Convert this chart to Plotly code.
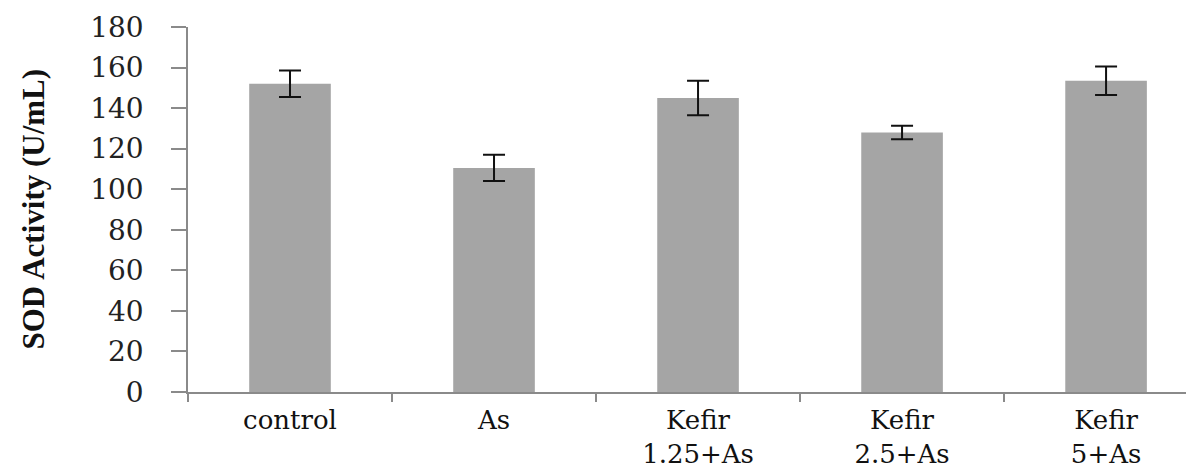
import plotly.graph_objects as go

categories = ["control", "As", "Kefir<br>1.25+As", "Kefir<br>2.5+As", "Kefir<br>5+As"]
sod_values = [152, 110.5, 145, 128, 153.5]
sod_errors = [6.5, 6.5, 8.5, 3.3, 7]
y_ticks = [0, 20, 40, 60, 80, 100, 120, 140, 160, 180]

fig = go.Figure()
fig.add_trace(go.Bar(
    x=categories,
    y=sod_values,
    marker=dict(color="#a5a5a5", line=dict(width=0)),
    width=0.4,
    error_y=dict(type="data", array=sod_errors, visible=True,
                 color="#111111", thickness=2, width=11),
))

fig.update_layout(
    width=1186, height=462,
    margin=dict(l=180, r=0, t=19, b=78),
    plot_bgcolor="white", paper_bgcolor="white",
    showlegend=False,
    xaxis=dict(
        type="category",
        range=[-0.5, 4.431],
        showline=True, linecolor="#8a8a8a", linewidth=1.5,
        ticks="outside", tickson="boundaries", ticklen=8, tickcolor="#8a8a8a", tickwidth=1.5,
        tickfont=dict(family="DejaVu Serif", size=26, color="#111111"),
        ticklabelstandoff=4,
        showgrid=False, automargin=False,
    ),
    yaxis=dict(
        range=[0, 180],
        tickvals=y_ticks,
        showline=True, linecolor="#8a8a8a", linewidth=1.5,
        ticks="outside", ticklen=15, tickcolor="#8a8a8a", tickwidth=1.5,
        tickfont=dict(family="DejaVu Serif", size=28, color="#222222"),
        ticklabelstandoff=22,
        showgrid=False, zeroline=False, automargin=False,
    ),
    annotations=[dict(
        text="<b>SOD Activity (U/mL)</b>",
        xref="paper", yref="paper",
        x=-0.154, y=0.5,
        xanchor="center", yanchor="middle",
        textangle=-90, showarrow=False,
        font=dict(family="Liberation Serif", size=31, color="#111111"),
    )],
)

fig.write_html("out.html")
